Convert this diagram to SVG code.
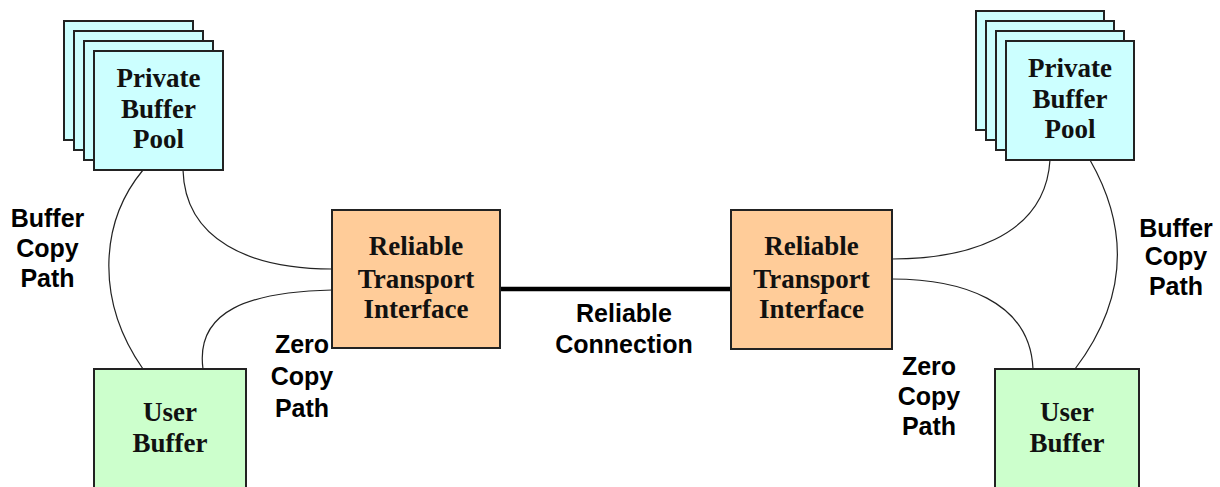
<svg xmlns="http://www.w3.org/2000/svg" width="1220" height="487" viewBox="0 0 1220 487">
<style>
.box{stroke:#222;stroke-width:2}
.pool{fill:#CCFFFF}
.rti{fill:#FFCC99}
.user{fill:#CCFFCC}
.st{font-family:"Liberation Serif","Times New Roman",serif;font-weight:bold;font-size:27px;fill:#111;text-anchor:middle}
.lb{font-family:"Liberation Sans",Arial,sans-serif;font-weight:bold;font-size:25px;fill:#000;text-anchor:middle}
.thin{fill:none;stroke:#222;stroke-width:1.2}
.thick{fill:none;stroke:#000;stroke-width:4.5}
</style>
<rect width="1220" height="487" fill="#fff"/>
<g id="connectors">
<path class="thin" d="M143,170 C100,222 95,300 143,369"/>
<path class="thin" d="M183,170 C185,240 250,269 332,269"/>
<path class="thin" d="M332,290 C250,292 195,310 203,369"/>
<path class="thin" d="M1050,160 C1045,240 960,259 892,259"/>
<path class="thin" d="M892,279 C960,279 1030,300 1033,369"/>
<path class="thin" d="M1090,160 C1130,230 1127,300 1075,369"/>
<path class="thick" d="M500,289 H731"/>
</g>
<g id="pool-left">
<rect class="box pool" x="64" y="21" width="129" height="119"/>
<rect class="box pool" x="74" y="31" width="129" height="119"/>
<rect class="box pool" x="84" y="41" width="129" height="119"/>
<rect class="box pool" x="94" y="51" width="129" height="119"/>
<text class="st" x="158.5" y="87">Private</text>
<text class="st" x="158.5" y="118">Buffer</text>
<text class="st" x="158.5" y="148">Pool</text>
</g>
<g id="pool-right">
<rect class="box pool" x="976" y="11" width="128" height="119"/>
<rect class="box pool" x="986" y="21" width="128" height="119"/>
<rect class="box pool" x="996" y="31" width="128" height="119"/>
<rect class="box pool" x="1006" y="41" width="128" height="119"/>
<text class="st" x="1070" y="77">Private</text>
<text class="st" x="1070" y="108">Buffer</text>
<text class="st" x="1070" y="138">Pool</text>
</g>
<g id="rti-left">
<rect class="box rti" x="332" y="210" width="168" height="138"/>
<text class="st" x="416" y="255">Reliable</text>
<text class="st" x="416" y="288">Transport</text>
<text class="st" x="416" y="318">Interface</text>
</g>
<g id="rti-right">
<rect class="box rti" x="731" y="210" width="161" height="139"/>
<text class="st" x="811.5" y="255">Reliable</text>
<text class="st" x="811.5" y="288">Transport</text>
<text class="st" x="811.5" y="318">Interface</text>
</g>
<g id="user-left">
<rect class="box user" x="94" y="369" width="152" height="130"/>
<text class="st" x="170" y="421">User</text>
<text class="st" x="170" y="452">Buffer</text>
</g>
<g id="user-right">
<rect class="box user" x="995" y="369" width="144" height="130"/>
<text class="st" x="1067" y="421">User</text>
<text class="st" x="1067" y="452">Buffer</text>
</g>
<g id="labels">
<text class="lb" x="47.5" y="227">Buffer</text>
<text class="lb" x="47.5" y="257">Copy</text>
<text class="lb" x="47.5" y="287">Path</text>
<text class="lb" x="302" y="353">Zero</text>
<text class="lb" x="302" y="385">Copy</text>
<text class="lb" x="302" y="417">Path</text>
<text class="lb" x="624" y="322">Reliable</text>
<text class="lb" x="624" y="353">Connection</text>
<text class="lb" x="929" y="375">Zero</text>
<text class="lb" x="929" y="405">Copy</text>
<text class="lb" x="929" y="435">Path</text>
<text class="lb" x="1176" y="237">Buffer</text>
<text class="lb" x="1176" y="265">Copy</text>
<text class="lb" x="1176" y="295">Path</text>
</g>
</svg>
